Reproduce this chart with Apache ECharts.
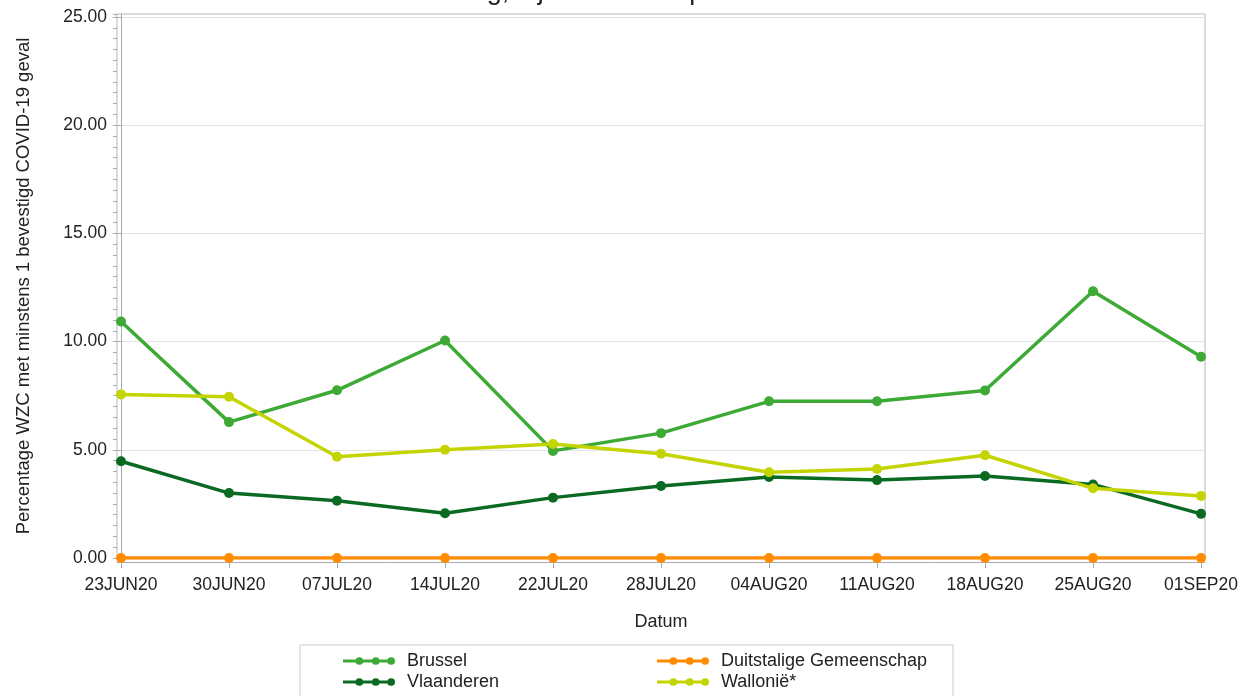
<!DOCTYPE html>
<html>
<head>
<meta charset="utf-8">
<script src="https://cdn.jsdelivr.net/npm/echarts@6/dist/echarts.min.js"></script>
<style>
html,body{margin:0;padding:0;background:#fff;}
#c{width:1241px;height:696px;}
</style>
</head>
<body>
<div id="c"></div>
<script>
const dates = ['23JUN20','30JUN20','07JUL20','14JUL20','22JUL20','28JUL20','04AUG20','11AUG20','18AUG20','25AUG20','01SEP20'];
const brussel     = [10.93, 6.28, 7.75, 10.05, 4.95, 5.77, 7.24, 7.24, 7.74, 12.33, 9.30];
const duitstalig  = [0, 0, 0, 0, 0, 0, 0, 0, 0, 0, 0];
const vlaanderen  = [4.47, 3.00, 2.65, 2.07, 2.79, 3.33, 3.74, 3.60, 3.79, 3.40, 2.04];
const wallonie    = [7.56, 7.45, 4.68, 5.00, 5.27, 4.82, 3.96, 4.11, 4.75, 3.22, 2.87];
const yTicks = [0, 5, 10, 15, 20, 25];

const seriesNames = ['Brussel', 'Duitstalige Gemeenschap', 'Vlaanderen', 'Wallonië*'];
const seriesData = [brussel, duitstalig, vlaanderen, wallonie];
const colors = ['#3daa35', '#ff8c00', '#0b6a22', '#c3d400'];

const FONT = '"Liberation Sans", Arial, sans-serif';
const iconPath = 'path://M0,3h52v3H0z M13,4.5a4,4 0 1,1 8,0a4,4 0 1,1 -8,0z M30,4.5a4,4 0 1,1 8,0a4,4 0 1,1 -8,0z M46,4.5a4,4 0 1,1 8,0a4,4 0 1,1 -8,0z';
const legendTextWidths = [247, 230, 247, 230];

const chart = echarts.init(document.getElementById('c'), null, {renderer: 'canvas'});
chart.setOption({
  animation: false,
  backgroundColor: '#ffffff',
  textStyle: {fontFamily: FONT},
  title: {
    text: 'Aandeel WZC met COVID-19 melding, bij minstens 1 personeelslid',
    left: 47, top: -22, padding: 0,
    textStyle: {fontFamily: FONT, fontSize: 27, fontWeight: 'normal', color: '#222', lineHeight: 27}
  },
  grid: {
    left: 117, right: 34, top: 14, bottom: 138,
    show: true, borderColor: '#b4b8bc', borderWidth: 1, backgroundColor: 'transparent'
  },
  legend: {
    left: 300, top: 645, width: 640,
    orient: 'horizontal',
    padding: [7, 2, 16, 43],
    borderColor: '#cccccc', borderWidth: 1,
    itemWidth: 52, itemHeight: 9, itemGap: 3,
    itemStyle: {borderWidth: 0},
    data: seriesNames.map((n, i) => ({
      name: n, icon: iconPath,
      itemStyle: {color: colors[i], borderWidth: 0},
      textStyle: {width: legendTextWidths[i]}
    })),
    textStyle: {fontFamily: FONT, fontSize: 18, color: '#222', lineHeight: 15, padding: [0, 0, 0, 7]}
  },
  xAxis: {
    type: 'value',
    min: -0.037, max: 10.037,
    offset: 4,
    name: 'Datum', nameLocation: 'middle', nameGap: 51,
    nameTextStyle: {fontFamily: FONT, fontSize: 18, color: '#222'},
    axisLine: {show: true, onZero: false, lineStyle: {color: '#a8acb0', width: 1}},
    axisTick: {show: true, length: 6, lineStyle: {color: '#a8acb0'}, customValues: dates.map((d, i) => i)},
    axisLabel: {
      customValues: dates.map((d, i) => i),
      formatter: v => dates[Math.round(v)],
      fontFamily: FONT, fontSize: 17.5, color: '#222', margin: 14
    },
    splitLine: {show: false}
  },
  yAxis: [{
    type: 'value',
    min: 0, max: 25.139,
    name: 'Percentage WZC met minstens 1 bevestigd COVID-19 geval',
    nameLocation: 'middle', nameGap: 84, nameRotate: 90,
    nameTextStyle: {fontFamily: FONT, fontSize: 18.5, color: '#222'},
    axisLine: {show: true, lineStyle: {color: '#a8acb0', width: 1}},
    axisTick: {show: true, length: 7, lineStyle: {color: '#a8acb0'}, customValues: yTicks},
    axisLabel: {
      customValues: yTicks,
      formatter: v => v.toFixed(2),
      fontFamily: FONT, fontSize: 17.5, color: '#222', margin: 10
    },
    splitLine: {show: true, lineStyle: {color: '#e4e4e4', width: 1}}
  }, {
    type: 'value',
    position: 'left',
    min: 0, max: 25.139, interval: 0.5,
    axisLine: {show: false},
    axisTick: {show: true, length: 4, lineStyle: {color: '#a8acb0', width: 1}},
    axisLabel: {show: false},
    splitLine: {show: false}
  }],
  series: seriesNames.map((n, i) => ({
    name: n,
    type: 'line',
    data: seriesData[i].map((v, j) => [j, v]),
    symbol: 'circle',
    symbolSize: 10,
    lineStyle: {color: colors[i], width: 3.5},
    itemStyle: {color: colors[i]},
    emphasis: {disabled: true},
    z: 3 + i
  }))
});
</script>
</body>
</html>
